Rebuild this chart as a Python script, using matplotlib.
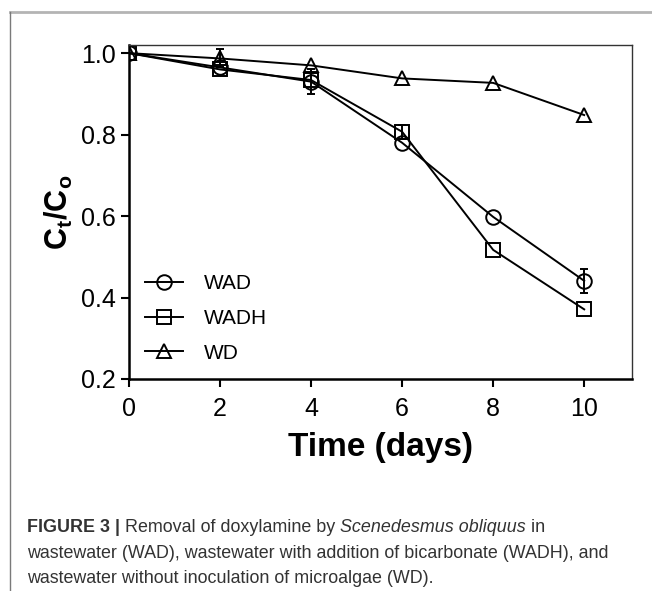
import matplotlib
matplotlib.use("Agg")
import matplotlib.pyplot as plt
from matplotlib.lines import Line2D
import numpy as np

plt.rcParams['font.family'] = ['Liberation Sans', 'DejaVu Sans']
plt.rcParams['mathtext.fontset'] = 'custom'
plt.rcParams['mathtext.rm'] = 'Liberation Sans'
plt.rcParams['mathtext.bf'] = 'Liberation Sans:bold'

# data
days = [0, 2, 4, 6, 8, 10]
wad = [1.0, 0.965, 0.93, 0.78, 0.598, 0.441]
wad_err = [0.0, 0.0, 0.03, 0.0, 0.0, 0.03]
wadh = [1.0, 0.96, 0.934, 0.807, 0.517, 0.371]
wadh_err = [0.0, 0.0, 0.0, 0.017, 0.0, 0.0]
wd = [1.0, 0.987, 0.97, 0.938, 0.927, 0.848]
wd_err = [0.0, 0.022, 0.0, 0.0, 0.0, 0.0]
labels = ["WAD", "WADH", "WD"]
markers = ["o", "s", "^"]

W, H = 652, 591
fig = plt.figure(figsize=(W / 100, H / 100), dpi=100)
ax = fig.add_axes([129 / W, 1 - 379 / H, (632 - 129) / W, (379 - 45) / H])

series = [(wad, wad_err), (wadh, wadh_err), (wd, wd_err)]
for (vals, err), mk in zip(series, markers):
    ax.plot(days, vals, color='black', lw=1.4, marker=mk, ms=10.5,
            mfc='none', mec='black', mew=1.4)
    # only draw bars where there is a visible error
    x = np.array(days)
    y = np.array(vals)
    e = np.array(err)
    m = e > 0
    ax.errorbar(x[m], y[m], yerr=e[m], fmt='none', ecolor='black',
                elinewidth=1.4, capsize=3, capthick=1.4)

ax.set_xlim(0, 11.05)
ax.set_ylim(0.2, 1.02)
ax.set_xticks(days)
ax.set_yticks([0.2, 0.4, 0.6, 0.8, 1.0])
ax.set_yticklabels(["0.2", "0.4", "0.6", "0.8", "1.0"])
ax.tick_params(labelsize=18, width=1.5, length=6, direction='out')
ax.tick_params(axis='x', pad=7)
for s in ['left', 'bottom']:
    ax.spines[s].set_linewidth(1.8)
for s in ['top', 'right']:
    ax.spines[s].set_linewidth(1.0)
    ax.spines[s].set_color('#333333')

ax.set_xlabel("Time (days)", fontsize=24, fontweight='bold', labelpad=8)
ax.set_ylabel(r"$\mathbf{C_t/C_o}$", fontsize=22, labelpad=4)

handles = [Line2D([], [], color='black', lw=1.4, marker=m, ms=10.5, mfc='none',
                  mew=1.4) for m in markers]
ax.legend(handles, labels, loc='upper left', bbox_to_anchor=(137 / W, 1 - 266 / H),
          bbox_transform=fig.transFigure, frameon=False, fontsize=15,
          handlelength=1.8, handletextpad=1.0, labelspacing=0.75, borderaxespad=0)

# page border lines
fig.add_artist(Line2D([10 / W, 1], [1 - 12 / H, 1 - 12 / H], color='#b4b4b4', lw=2))
fig.add_artist(Line2D([10 / W, 10 / W], [0, 1 - 12 / H], color='#7a7a7a', lw=1))

# caption
cap_color = '#333333'
cap_size = 12.9

t1 = fig.text(27 / W, 1 - 532 / H, "FIGURE 3", fontsize=cap_size, color=cap_color,
              fontweight='bold', va='baseline')
t2 = ax.annotate(" | ", xy=(1, 0), xycoords=t1, va='bottom', ha='left',
                 fontsize=cap_size, color=cap_color, fontweight='bold', annotation_clip=False)
t3 = ax.annotate("Removal of doxylamine by ", xy=(1, 0), xycoords=t2, va='bottom',
                 ha='left', fontsize=cap_size, color=cap_color, annotation_clip=False)
t4 = ax.annotate("Scenedesmus obliquus", xy=(1, 0), xycoords=t3, va='bottom',
                 ha='left', fontsize=cap_size, color=cap_color, style='italic',
                 annotation_clip=False)
t5 = ax.annotate(" in", xy=(1, 0), xycoords=t4, va='bottom', ha='left',
                 fontsize=cap_size, color=cap_color, annotation_clip=False)
fig.text(27 / W, 1 - 558 / H,
         "wastewater (WAD), wastewater with addition of bicarbonate (WADH), and",
         fontsize=cap_size, color=cap_color, va='baseline')
fig.text(27 / W, 1 - 583 / H, "wastewater without inoculation of microalgae (WD).",
         fontsize=cap_size, color=cap_color, va='baseline')

fig.savefig("out.png", dpi=100)
